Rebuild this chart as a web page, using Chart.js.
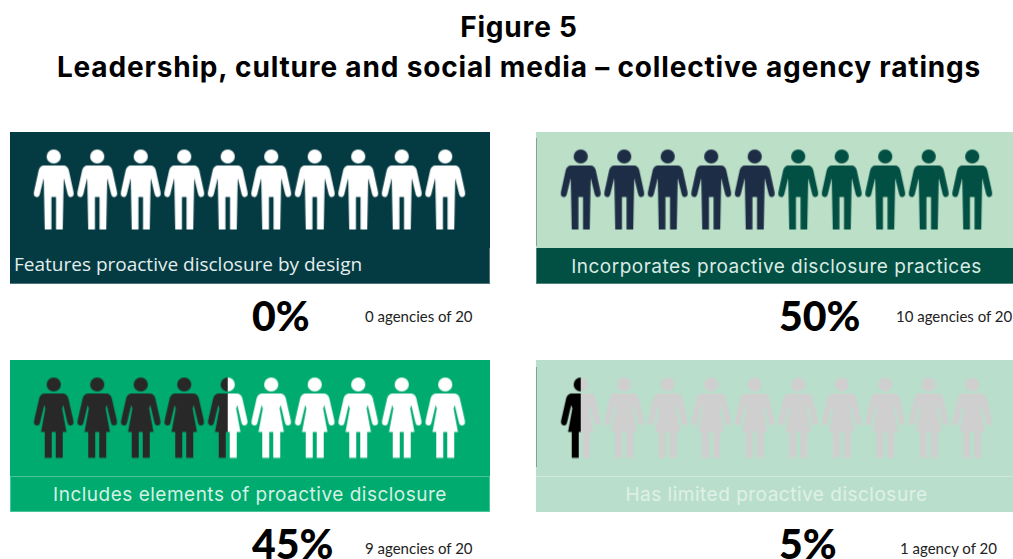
<!DOCTYPE html>
<html>
<head>
<meta charset="utf-8">
<title>Figure 5</title>
<script src="https://cdn.jsdelivr.net/npm/chart.js@4"></script>
<style>
  html, body { margin: 0; padding: 0; background: #fff; overflow: hidden; }
  #page { position: relative; width: 1013px; height: 559px; overflow: hidden; }
  #page > * { position: absolute; white-space: nowrap; }
  .title { left: 0; width: 1038px; text-align: center; font: 700 28px Inter, sans-serif; letter-spacing: 0.83px; line-height: 34px; color: #000; }
  .panel { box-sizing: border-box; }
  .band { box-sizing: border-box; }
  .caption { font: 400 19px Inter, sans-serif; letter-spacing: 0.5px; text-align: center; }
  .share { font: 900 41px Lato, sans-serif; line-height: 48px; color: #000; }
  .count { font: 400 15px Lato, sans-serif; line-height: 18px; color: #222; }
</style>
</head>
<body>
<div id="page"></div>
<script>
const titleLines = ['Figure 5', 'Leadership, culture and social media \u2013 collective agency ratings'];
const ratingLabels = [
  'Features proactive disclosure by design',
  'Incorporates proactive disclosure practices',
  'Includes elements of proactive disclosure',
  'Has limited proactive disclosure'
];
const sharePercents = [0, 50, 45, 5];
const agencyCounts = [0, 10, 9, 1];
const agencyTotal = 20;
const figureSlots = ['1', '2', '3', '4', '5', '6', '7', '8', '9', '10'];
const figureRow = [1, 1, 1, 1, 1, 1, 1, 1, 1, 1];

// how much of each figure (from the left) takes the highlight colour
const byDesignFill = [0, 0, 0, 0, 0, 0, 0, 0, 0, 0];
const practicesFill = [1, 1, 1, 1, 1, 0, 0, 0, 0, 0];
const elementsFill = [1, 1, 1, 1, 0.5, 0, 0, 0, 0, 0];
const limitedFill = [0.5, 0, 0, 0, 0, 0, 0, 0, 0, 0];

const bandLine = '1px solid rgba(255,255,255,0.3)';
const panels = [
  { fill: byDesignFill, figure: 'man', on: '#ffffff', off: '#ffffff', bg: '#043a41', band: '#043a41',
    x: 10, y: 132, w: 480, h: 152, bandTop: 248, chartX: 32, chartY: 144, text: '#e3eeee',
    bandBorders: { borderRight: bandLine, borderBottom: bandLine },
    captionX: 14, captionY: 251, captionFont: '400 19px "Open Sans", sans-serif', captionAlign: 'left',
    shareX: 252, shareY: 292, countX: 365, countY: 307 },
  { fill: practicesFill, figure: 'man', on: '#1d2d46', off: '#024f43', bg: '#bbdfc7', band: '#024f43',
    x: 536, y: 132, w: 477, h: 152, bandTop: 248, chartX: 559, chartY: 144, text: '#d9ebe4',
    bandBorders: { borderLeft: bandLine, borderBottom: bandLine },
    edgeTop: 138, edgeHeight: 108,
    captionX: 538, captionY: 255, captionFont: '', captionAlign: 'center',
    shareX: 779, shareY: 292, countX: 896, countY: 307 },
  { fill: elementsFill, figure: 'woman', on: '#282828', off: '#ffffff', bg: '#00ab6f', band: '#00ab6f',
    x: 10, y: 360, w: 480, h: 152, bandTop: 476, chartX: 32, chartY: 372, text: '#d5f1e4',
    bandBorders: { border: bandLine },
    captionX: 10, captionY: 483, captionFont: '', captionAlign: 'center',
    shareX: 252, shareY: 520, countX: 365, countY: 539 },
  { fill: limitedFill, figure: 'woman', on: '#000000', off: '#cfcfcf', bg: '#b9dfcc', band: '#b9dfcc',
    x: 536, y: 360, w: 477, h: 152, bandTop: 476, chartX: 559, chartY: 372, text: '#e0f0e8',
    bandBorders: { borderTop: bandLine },
    edgeTop: 367, edgeHeight: 100,
    captionX: 538, captionY: 483, captionFont: '', captionAlign: 'center',
    shareX: 779, shareY: 520, countX: 900, countY: 539 }
];

function tracePerson(ctx, side, figure) {
  // outline of one half of the figure, x is mirrored by side
  const sx = x => side * x;
  ctx.moveTo(0, 16);
  if (figure === 'man') {
    ctx.lineTo(sx(10), 16);
    ctx.quadraticCurveTo(sx(13.5), 16, sx(15), 20.5);
    ctx.lineTo(sx(19.7), 42);
    ctx.quadraticCurveTo(sx(20.8), 47, sx(17.3), 47.6);
    ctx.quadraticCurveTo(sx(14.8), 48, sx(14), 45);
    ctx.lineTo(sx(10), 28.5);
    ctx.lineTo(sx(9), 80);
    ctx.lineTo(sx(2.3), 80);
    ctx.lineTo(sx(2.3), 47.5);
    ctx.lineTo(0, 47.5);
  } else {
    ctx.lineTo(sx(9), 16);
    ctx.quadraticCurveTo(sx(13), 16, sx(14.5), 20.5);
    ctx.lineTo(sx(19.5), 42.5);
    ctx.quadraticCurveTo(sx(20.6), 47.5, sx(17), 48);
    ctx.quadraticCurveTo(sx(14.6), 48.3, sx(13.8), 45.5);
    ctx.lineTo(sx(9.5), 27.5);
    ctx.lineTo(sx(8.4), 31);
    ctx.lineTo(sx(12.7), 54.5);
    ctx.lineTo(sx(9), 54.5);
    ctx.lineTo(sx(9), 80.3);
    ctx.lineTo(sx(2), 80.3);
    ctx.lineTo(sx(2), 54.5);
    ctx.lineTo(0, 54.5);
  }
  ctx.closePath();
}

function makeFigure(figure, share, on, off) {
  const canvas = document.createElement('canvas');
  canvas.width = 44;
  canvas.height = 82;
  const ctx = canvas.getContext('2d');

  const paint = (from, to, color) => {
    ctx.save();
    ctx.beginPath();
    ctx.rect(from, 0, to - from, 82);
    ctx.clip();
    ctx.translate(22, 1);
    ctx.fillStyle = color;
    ctx.beginPath();
    ctx.arc(0, 7, 7.1, 0, Math.PI * 2);
    ctx.fill();
    ctx.beginPath();
    tracePerson(ctx, 1, figure);
    tracePerson(ctx, -1, figure);
    ctx.fill();
    ctx.restore();
  };
  if (share > 0) paint(0, 44 * share, on);
  if (share < 1) paint(44 * share, 44, off);
  return canvas;
}

function addText(cls, text, css) {
  const el = document.createElement('div');
  el.className = cls;
  el.textContent = text;
  Object.assign(el.style, css);
  document.getElementById('page').appendChild(el);
  return el;
}

function drawPanel(panel, i) {
  addText('panel', '', { left: panel.x + 'px', top: panel.y + 'px', width: panel.w + 'px', height: panel.h + 'px', background: panel.bg });
  addText('band', '', Object.assign({
    left: panel.x + 'px', top: panel.bandTop + 'px', width: panel.w + 'px',
    height: panel.y + panel.h - panel.bandTop + 'px', background: panel.band
  }, panel.bandBorders));
  if (panel.edgeTop) {
    // thin darker rule on the panel's left side
    addText('panel', '', {
      left: panel.x + 'px', top: panel.edgeTop + 'px', width: '1px', height: panel.edgeHeight + 'px', background: '#7ba596'
    });
  }

  const canvas = document.createElement('canvas');
  canvas.width = 435;
  canvas.height = 91;
  canvas.style.left = panel.chartX + 'px';
  canvas.style.top = panel.chartY + 'px';
  document.getElementById('page').appendChild(canvas);

  const figures = panel.fill.map(share => makeFigure(panel.figure, share, panel.on, panel.off));
  new Chart(canvas, {
    type: 'line',
    data: {
      labels: figureSlots,
      datasets: [{
        data: figureRow,
        showLine: false,
        pointStyle: ctx => figures[ctx.dataIndex],
        clip: false
      }]
    },
    options: {
      responsive: false,
      animation: false,
      layout: { padding: 0, autoPadding: false },
      plugins: { legend: { display: false }, tooltip: { enabled: false } },
      scales: {
        x: { type: 'category', offset: true, display: false },
        y: { min: 0, max: 2, display: false }
      }
    }
  });

  const caption = addText('caption', ratingLabels[i], {
    left: panel.captionX + 'px', top: panel.captionY + 'px', color: panel.text, textAlign: panel.captionAlign
  });
  if (panel.captionFont) {
    caption.style.font = panel.captionFont;
    caption.style.letterSpacing = '0';
  }
  if (panel.captionAlign === 'center') caption.style.width = panel.w + 'px';

  addText('share', sharePercents[i] + '%', { left: panel.shareX + 'px', top: panel.shareY + 'px' });
  const noun = agencyCounts[i] === 1 ? 'agency' : 'agencies';
  addText('count', `${agencyCounts[i]} ${noun} of ${agencyTotal}`, { left: panel.countX + 'px', top: panel.countY + 'px' });
}

titleLines.forEach((line, i) => addText('title', line, { top: 10 + i * 40 + 'px' }));
panels.forEach(drawPanel);
</script>
</body>
</html>
